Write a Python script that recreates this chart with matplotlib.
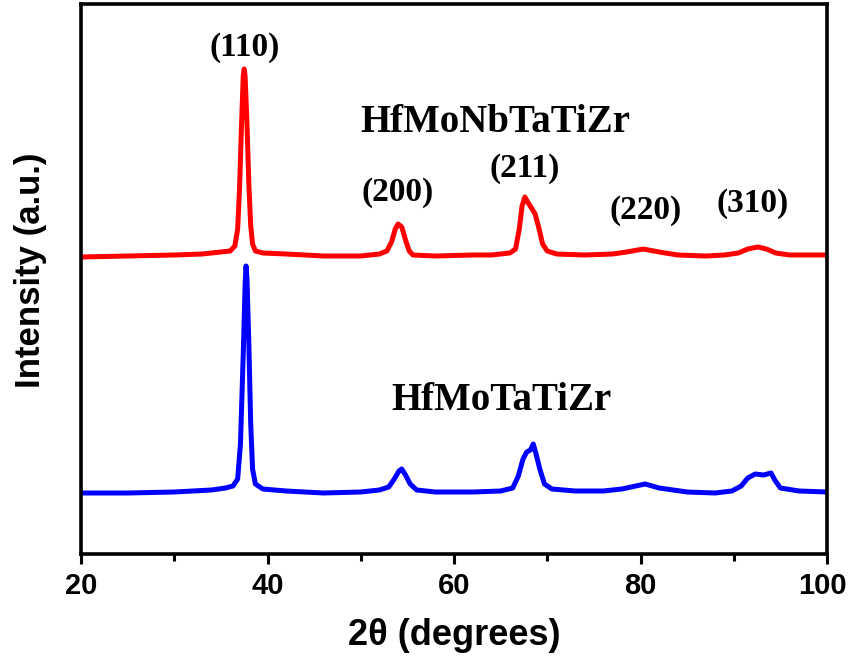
import matplotlib
matplotlib.use("Agg")
import matplotlib.pyplot as plt
import matplotlib.transforms as mtransforms
from matplotlib.ticker import MultipleLocator

# ---- data (2theta in degrees, intensity in a.u.) ----
red_2theta = [20, 25, 30, 33, 35, 36.0, 36.5, 36.8, 37.0, 37.2, 37.4, 37.5, 37.6, 37.8,
              38.0, 38.2, 38.4, 38.7, 39.5, 42, 46, 50, 52, 52.8, 53.3, 53.7, 54.0, 54.4,
              54.8, 55.2, 55.6, 58, 62, 64, 66.0, 66.6, 67.0, 67.3, 67.6, 67.9, 68.3, 68.7,
              69.1, 69.5, 70.0, 71, 74, 77, 78.5, 80.3, 82, 84, 87, 89, 90.5, 91.5, 92.6,
              93.5, 94.5, 96, 100]
red_intensity = [62, 63, 64, 65, 67, 68, 73, 90, 130, 190, 243, 250, 243, 195,
                 135, 93, 75, 68, 66, 65, 63, 63, 65, 68, 77, 90, 95, 92,
                 79, 68, 64, 63, 64, 64, 66, 70, 90, 113, 122, 117, 111, 105,
                 91, 75, 68, 65, 64, 65, 67, 70, 67, 64, 63, 64, 66, 70, 72,
                 70, 66, 64, 64]
red_offset = 235

blue_2theta = [20, 25, 30, 34, 35.5, 36.3, 36.8, 37.1, 37.4, 37.6, 37.7, 37.8, 38.0, 38.2,
               38.4, 38.7, 39.5, 42, 46, 50, 52, 53.0, 53.6, 54.1, 54.4, 54.8, 55.3, 56,
               58, 62, 65, 66.3, 66.9, 67.4, 67.8, 68.2, 68.5, 68.8, 69.2, 69.7, 70.5, 73,
               76, 78, 80.5, 82, 85, 88, 89.8, 90.8, 91.5, 92.3, 93.2, 94.0, 94.4, 95, 97, 100]
blue_intensity = [61, 61, 62, 64, 66, 68, 75, 110, 200, 270, 288, 275, 210, 130,
                  85, 70, 65, 63, 61, 62, 64, 67, 75, 83, 85, 79, 70, 64,
                  62, 62, 63, 66, 78, 95, 102, 104, 110, 100, 85, 70, 65, 63,
                  63, 65, 70, 66, 62, 61, 63, 68, 76, 80, 79, 81, 74, 66, 63, 62]

series_names = ["HfMoNbTaTiZr", "HfMoTaTiZr"]
peak_labels = ["(110)", "(200)", "(211)", "(220)", "(310)"]
peak_label_x = [37.6, 54.0, 67.6, 80.6, 92.0]
peak_label_y = [498, 353, 377, 335, 342]

x_ticks = [20, 40, 60, 80, 100]

# ---- figure ----
fig = plt.figure(figsize=(8.5, 6.65), dpi=100)
ax = fig.add_axes([81 / 850, 1 - 554 / 665, (827 - 81) / 850, (554 - 4) / 665])

red_y = [v + red_offset for v in red_intensity]
ax.plot(red_2theta, red_y, color="#ff0000", lw=3.6, solid_joinstyle="round")
ax.plot(blue_2theta, blue_intensity, color="#0000ff", lw=3.6, solid_joinstyle="round")

ax.set_xlim(20, 100)
ax.set_ylim(0, 550)
ax.set_xticks(x_ticks)
ax.xaxis.set_minor_locator(MultipleLocator(10))
ax.set_yticks([])

for s in ax.spines.values():
    s.set_linewidth(2.6)

sans = ["Liberation Sans", "DejaVu Sans"]
serif = ["Liberation Serif", "DejaVu Serif"]

ax.tick_params(axis="x", which="major", direction="out", length=7, width=2.2,
               labelsize=21, pad=6)
ax.tick_params(axis="x", which="minor", direction="out", length=5, width=2.2)
ticklabels = ax.get_xticklabels()
for lab in ticklabels:
    lab.set_fontfamily(sans)
    lab.set_fontweight("bold")
# nudge the last label a little left so it stays inside the canvas
shift = mtransforms.ScaledTranslation(-5 / 100, 0, fig.dpi_scale_trans)
ticklabels[-1].set_transform(ticklabels[-1].get_transform() + shift)

ax.set_xlabel("2θ (degrees)", fontsize=26, fontweight="bold", family=sans, labelpad=13)
ax.set_ylabel("Intensity (a.u.)", fontsize=25, fontweight="bold", family=sans)
ax.yaxis.set_label_coords(-0.046, 0.516)

for txt, x, y in zip(peak_labels, peak_label_x, peak_label_y):
    ax.text(x, y, txt, ha="center", va="baseline", fontsize=24, fontweight="bold",
            family=serif)

ax.text(64.4, 422, series_names[0], ha="center", va="baseline", fontsize=28,
        fontweight="bold", family=serif)
ax.text(65.1, 144, series_names[1], ha="center", va="baseline", fontsize=28,
        fontweight="bold", family=serif)

fig.savefig("out.png", dpi=100)
